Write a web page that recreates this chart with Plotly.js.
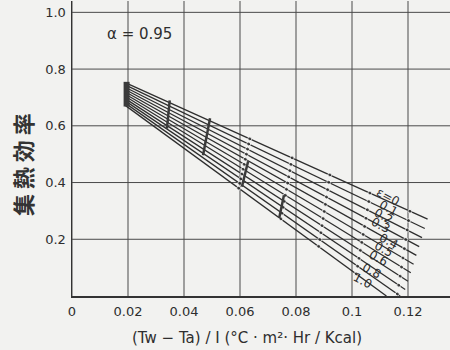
<!DOCTYPE html>
<html><head><meta charset="utf-8">
<script src="https://cdn.plot.ly/plotly-3.0.1.min.js"></script>
<style>html,body{margin:0;padding:0;background:#f2f2f0}</style>
</head><body><div id="chart" style="width:450px;height:350px"></div>
<script>
// emissivity values of the curves
const epsNames = ["0","0.1","0.2","0.3","0.4","0.5","0.6","0.7","0.8","0.9","1.0"];
// x points of each curve (start, dots..., end)
const xE0  = [0.019, 0.0635, 0.0786, 0.0921, 0.1064, 0.1207, 0.127];
const xE1  = [0.019, 0.0631, 0.0782, 0.0917, 0.1060, 0.1202, 0.126];
const xE2  = [0.019, 0.0627, 0.0778, 0.0913, 0.1055, 0.1197, 0.125];
const xE3  = [0.019, 0.0623, 0.0774, 0.0909, 0.1050, 0.1192, 0.124];
const xE4  = [0.019, 0.0619, 0.0770, 0.0905, 0.1045, 0.1187, 0.123];
const xE5  = [0.019, 0.0615, 0.0766, 0.0901, 0.1040, 0.1182, 0.122];
const xE6  = [0.019, 0.0611, 0.0762, 0.0897, 0.1035, 0.1177, 0.121];
const xE7  = [0.019, 0.0607, 0.0758, 0.0893, 0.1030, 0.1172, 0.120];
const xE8  = [0.019, 0.0603, 0.0754, 0.0889, 0.1025, 0.1167, 0.119];
const xE9  = [0.019, 0.0599, 0.0750, 0.0885, 0.1020, 0.1162, 0.1172];
const xE10 = [0.019, 0.0595, 0.0746, 0.0881, 0.1015, 0.1123];
// efficiency values at those points
const yE0  = [0.752, 0.554, 0.487, 0.427, 0.363, 0.299, 0.271];
const yE1  = [0.744, 0.536, 0.464, 0.401, 0.333, 0.266, 0.238];
const yE2  = [0.736, 0.518, 0.442, 0.375, 0.304, 0.233, 0.206];
const yE3  = [0.728, 0.500, 0.420, 0.349, 0.274, 0.199, 0.174];
const yE4  = [0.720, 0.482, 0.398, 0.323, 0.245, 0.167, 0.143];
const yE5  = [0.712, 0.464, 0.376, 0.298, 0.217, 0.134, 0.112];
const yE6  = [0.704, 0.447, 0.355, 0.273, 0.189, 0.102, 0.082];
const yE7  = [0.696, 0.430, 0.334, 0.248, 0.161, 0.070, 0.052];
const yE8  = [0.688, 0.413, 0.313, 0.223, 0.133, 0.038, 0.023];
const yE9  = [0.680, 0.397, 0.292, 0.199, 0.105, 0.007, 0.0];
const yE10 = [0.672, 0.380, 0.272, 0.175, 0.078, 0.0];
const xSeries = [xE0,xE1,xE2,xE3,xE4,xE5,xE6,xE7,xE8,xE9,xE10];
const ySeries = [yE0,yE1,yE2,yE3,yE4,yE5,yE6,yE7,yE8,yE9,yE10];

// dark connector bars between curves
const barX0 = [0.0195, 0.0349, 0.0493, 0.0629, 0.0757];
const barY0 = [0.755, 0.690, 0.627, 0.475, 0.355];
const barX1 = [0.0195, 0.0339, 0.0468, 0.0607, 0.0740];
const barY1 = [0.668, 0.590, 0.496, 0.385, 0.275];
const barW  = [6, 2.5, 2.5, 2.5, 2.5];

// curve labels
const labText = ["ε=0","0.1","0.2","0.3","0.4","0.5","0.6","0.8","1.0"];
const labX = [0.1129, 0.1129, 0.1111, 0.1100, 0.1129, 0.1111, 0.1093, 0.1071, 0.1039];
const labY = [0.350, 0.310, 0.282, 0.249, 0.193, 0.164, 0.135, 0.088, 0.053];

// axis ticks
const xTickVals = [0, 0.02, 0.04, 0.06, 0.08, 0.10, 0.12];
const xTickText = ["0","0.02","0.04","0.06","0.08","0.1","0.12"];
const yTickVals = [0.2, 0.4, 0.6, 0.8, 1.0];
const yTickText = ["0.2","0.4","0.6","0.8","1.0"];

const ink = '#2e2e2e';
const traces = [];
xSeries.forEach((xs, i) => {
  const sizes = xs.map((v, j) => (j === 0 || j === xs.length - 1) ? 0 : 4);
  traces.push({x: xs, y: ySeries[i], type: 'scatter', mode: 'lines+markers',
    name: 'ε=' + epsNames[i],
    line: {color: ink, width: 1.3}, marker: {color: ink, size: sizes},
    hoverinfo: 'skip', showlegend: false});
});
barX0.forEach((v, i) => {
  traces.push({x: [barX0[i], barX1[i]], y: [barY0[i], barY1[i]], type: 'scatter',
    mode: 'lines', line: {color: '#3a3a3a', width: barW[i]}, showlegend: false, hoverinfo: 'skip'});
});

// grid lines built from the tick arrays
const shapes = [];
xTickVals.forEach(v => shapes.push({type: 'line', layer: 'below', xref: 'x', yref: 'paper',
  x0: v, x1: v, y0: 0, y1: 1, line: {color: '#4a4a4a', width: 1}}));
yTickVals.forEach(v => shapes.push({type: 'line', layer: 'below', xref: 'paper', yref: 'y',
  x0: 0, x1: 1, y0: v, y1: v, line: {color: '#4a4a4a', width: 1}}));

const annotations = labText.map((t, i) => ({
  x: labX[i], y: labY[i], xref: 'x', yref: 'y', text: t, showarrow: false,
  textangle: 28, font: {family: 'DejaVu Sans', size: 12, color: ink}
}));
annotations.push({x: 0.087, y: 0.888, xref: 'paper', yref: 'paper', xanchor: 'left', yanchor: 'middle',
  text: 'α = 0.95', showarrow: false, font: {family: 'DejaVu Sans', size: 15, color: ink}});
annotations.push({x: 0.463, y: -0.142, xref: 'paper', yref: 'paper', xanchor: 'center', yanchor: 'middle',
  text: '(Tw − Ta) / I (°C · m²· Hr / Kcal)', showarrow: false,
  font: {family: 'DejaVu Sans', size: 15, color: ink}});
annotations.push({x: -0.132, y: 0.444, xref: 'paper', yref: 'paper', xanchor: 'center', yanchor: 'middle',
  text: '<b>集 熱 効 率</b>', textangle: -90, showarrow: false,
  font: {family: 'Noto Sans CJK JP', size: 22, color: '#333'}});

const layout = {
  width: 450, height: 350,
  margin: {l: 72, r: 0, t: 1, b: 54},
  paper_bgcolor: '#f2f2f0', plot_bgcolor: '#f2f2f0',
  xaxis: {range: [0, 0.135], tickvals: xTickVals, ticktext: xTickText, showgrid: false,
    zeroline: false, showline: true, linecolor: '#333', linewidth: 1.5,
    ticks: '', ticklabelstandoff: 3, tickfont: {family: 'DejaVu Sans', size: 13, color: ink}, fixedrange: true},
  yaxis: {range: [0, 1.04], tickvals: yTickVals, ticktext: yTickText, showgrid: false,
    zeroline: false, showline: true, linecolor: '#333', linewidth: 1.5,
    ticks: '', ticklabelstandoff: 2, tickfont: {family: 'DejaVu Sans', size: 13, color: ink}, fixedrange: true},
  shapes: shapes,
  annotations: annotations,
  showlegend: false
};
Plotly.newPlot('chart', traces, layout, {staticPlot: true});
</script></body></html>
